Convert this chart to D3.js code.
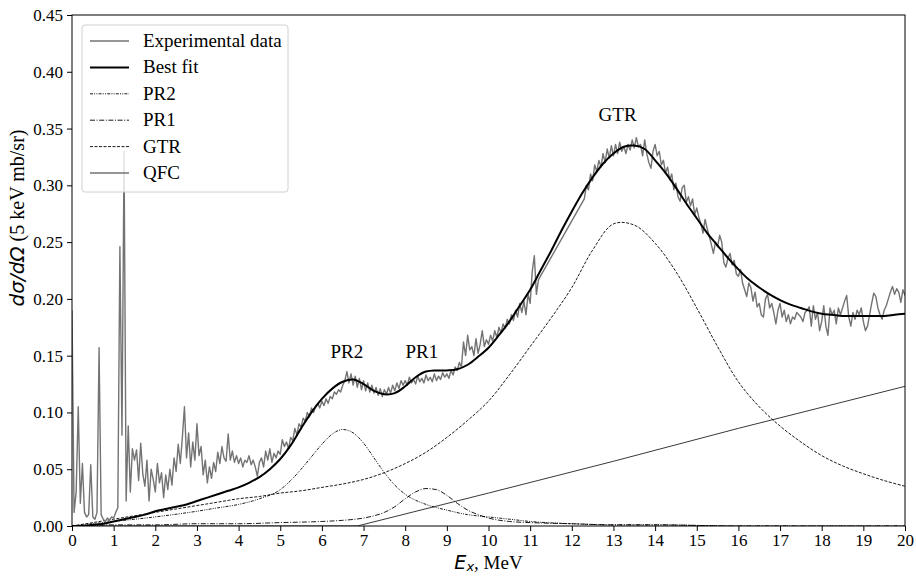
<!DOCTYPE html>
<html>
<head>
<meta charset="utf-8">
<script src="https://cdn.jsdelivr.net/npm/d3@7"></script>
<style>
  body { margin: 0; background: #fff; }
  svg { display: block; }
  .tick text { font-family: "Liberation Serif", "Times New Roman", serif; font-size: 17px; fill: #000; }
</style>
</head>
<body>
<svg id="chart" width="916" height="576"></svg>
<script>
// experimental spectrum, 0.05 MeV steps from 0 to 20 MeV (null = no data)
var expStep = 0.05;
var expY = [
  0.190, 0.012, 0.030, 0.105, 0.020, 0.055, 0.012, 0.008, 0.010, 0.054, 0.008, 0.006, 0.012, 0.157, 0.010, 0.006, 0.004, 0.007, 0.005, 0.008,
  0.007, 0.012, 0.016, 0.246, 0.080, 0.330, 0.022, 0.088, 0.030, 0.068, 0.058, 0.067, 0.040, 0.073, 0.046, 0.035, 0.058, 0.022, 0.050, 0.041,
  0.030, 0.055, 0.038, 0.047, 0.025, 0.045, 0.032, 0.050, 0.036, 0.060, 0.048, 0.072, 0.055, 0.078, 0.105, 0.060, 0.082, 0.052, 0.074, 0.058,
  0.090, 0.062, 0.070, 0.045, 0.058, 0.038, 0.052, 0.042, 0.056, 0.048, 0.065, 0.055, 0.070, 0.060, 0.057, 0.081, 0.058, 0.066, 0.056, 0.062,
  0.055, 0.060, 0.052, 0.058, 0.056, 0.062, 0.054, 0.058, 0.052, 0.044, 0.056, 0.060, 0.052, 0.066, 0.058, 0.068, 0.056, 0.064, 0.060, 0.066,
  0.063, 0.076, 0.070, 0.074, 0.068, 0.078, 0.075, 0.086, 0.080, 0.090, 0.087, 0.095, 0.092, 0.100, 0.096, 0.104, 0.100, 0.106, 0.108, 0.104,
  0.110, 0.106, 0.112, 0.108, 0.114, 0.112, 0.118, 0.116, 0.120, 0.118, 0.124, 0.128, 0.136, 0.126, 0.134, 0.124, 0.132, 0.122, 0.130, 0.120,
  0.128, 0.119, 0.126, 0.118, 0.124, 0.117, 0.122, 0.115, 0.121, 0.114, 0.120, 0.116, 0.122, 0.117, 0.124, 0.119, 0.126, 0.121, 0.128, 0.124,
  0.128, 0.124, 0.131, 0.126, 0.129, 0.125, 0.132, 0.127, 0.130, 0.126, 0.133, 0.128, 0.131, 0.127, 0.134, 0.128, 0.132, 0.129, 0.135, 0.131,
  0.134, 0.130, 0.137, 0.133, 0.140, 0.137, 0.144, 0.140, 0.162, 0.150, 0.168, 0.155, 0.158, 0.150, 0.165, 0.152, 0.160, 0.172, 0.158, 0.164,
  0.160, 0.168, 0.163, 0.172, 0.166, 0.175, 0.170, 0.178, 0.174, 0.182, 0.178, 0.186, 0.181, 0.190, 0.184, 0.196, 0.188, 0.198, 0.186, 0.204,
  0.196, 0.224, 0.238, 0.204, 0.217, null, null, null, null, null, null, null, null, null, null, null, null, null, null, null,
  null, null, null, null, null, null, 0.288, 0.300, 0.296, 0.310, 0.304, 0.318, 0.312, 0.322, 0.316, 0.328, 0.320, 0.332, 0.324, 0.335,
  0.326, 0.336, 0.328, 0.338, 0.330, 0.334, 0.328, 0.336, 0.331, 0.340, 0.333, 0.342, 0.334, 0.336, 0.326, 0.340, 0.328, 0.320, 0.315, 0.330,
  0.336, 0.326, 0.330, 0.318, 0.322, 0.311, 0.316, 0.305, 0.310, 0.296, 0.302, 0.290, 0.286, 0.298, 0.300, 0.285, 0.290, 0.282, 0.288, 0.274,
  0.280, 0.272, 0.266, 0.258, 0.270, 0.262, 0.255, 0.248, 0.240, 0.250, 0.246, 0.256, 0.250, 0.232, 0.228, 0.236, 0.240, 0.230, 0.234, 0.222,
  0.220, 0.226, 0.214, 0.208, 0.202, 0.214, 0.210, 0.198, 0.206, 0.193, 0.196, 0.186, 0.184, 0.200, 0.204, 0.192, 0.196, 0.188, 0.178, 0.190,
  0.196, 0.184, 0.190, 0.180, 0.186, 0.178, 0.184, 0.182, 0.188, 0.186, 0.184, 0.180, 0.188, 0.190, 0.193, 0.176, 0.194, 0.182, 0.188, 0.172,
  0.180, 0.194, 0.176, 0.168, 0.192, 0.186, 0.190, 0.178, 0.192, 0.186, 0.192, 0.198, 0.203, 0.184, 0.176, 0.188, 0.182, 0.190, 0.186, 0.192,
  0.180, 0.172, 0.176, 0.186, 0.196, 0.205, 0.202, 0.192, 0.186, 0.182, 0.190, 0.194, 0.200, 0.206, 0.211, 0.204, 0.209, 0.206, 0.197, 0.208,
  0.203
];

// best fit, 0.25 MeV steps
var fitStep = 0.25;
var fitY = [
  0.000, 0.000, 0.001, 0.002, 0.004, 0.006, 0.008, 0.010, 0.013, 0.015, 0.017, 0.019, 0.022, 0.025, 0.028, 0.031,
  0.034, 0.038, 0.043, 0.050, 0.059, 0.071, 0.086, 0.100, 0.112, 0.121, 0.127, 0.129, 0.125, 0.119, 0.116, 0.117,
  0.123, 0.131, 0.136, 0.137, 0.137, 0.138, 0.142, 0.149, 0.157, 0.168, 0.180, 0.194, 0.208, 0.225, 0.242, 0.260,
  0.277, 0.293, 0.307, 0.319, 0.328, 0.334, 0.335, 0.332, 0.322, 0.311, 0.298, 0.284, 0.271, 0.258, 0.247, 0.236,
  0.226, 0.217, 0.210, 0.204, 0.199, 0.195, 0.192, 0.189, 0.187, 0.186, 0.185, 0.185, 0.185, 0.185, 0.185, 0.186,
  0.187
];

// GTR component, 0.5 MeV steps
var gtrStep = 0.5;
var gtrY = [
  0.000, 0.003, 0.006, 0.009, 0.012, 0.015, 0.018, 0.021, 0.024, 0.026, 0.029, 0.031, 0.034, 0.037, 0.041, 0.047,
  0.055, 0.065, 0.078, 0.093, 0.110, 0.133, 0.158, 0.183, 0.210, 0.243, 0.266, 0.265, 0.249, 0.224, 0.192, 0.158,
  0.127, 0.105, 0.088, 0.074, 0.062, 0.053, 0.046, 0.040, 0.035
];

// PR2 component
var pr2E = [0, 1, 2, 3, 3.5, 4, 4.5, 5, 5.25, 5.5, 5.75, 6, 6.25, 6.5, 6.75, 7, 7.25, 7.5, 7.75, 8, 8.5, 9, 9.5, 10, 10.5, 11, 12, 13, 14, 16, 18, 20];
var pr2Y = [0.000, 0.004, 0.008, 0.013, 0.016, 0.019, 0.024, 0.032, 0.040, 0.050, 0.061, 0.072, 0.081, 0.085, 0.082, 0.073,
            0.060, 0.047, 0.036, 0.028, 0.019, 0.014, 0.010, 0.008, 0.006, 0.004, 0.002, 0.001, 0.001, 0.000, 0.000, 0.000];

// PR1 component
var pr1E = [0, 1, 2, 3, 4, 5, 6, 6.5, 7, 7.25, 7.5, 7.75, 8, 8.25, 8.5, 8.75, 9, 9.25, 9.5, 9.75, 10, 10.5, 11, 12, 13, 14, 16, 18, 20];
var pr1Y = [0.000, 0.001, 0.001, 0.002, 0.002, 0.003, 0.004, 0.005, 0.007, 0.009, 0.012, 0.017, 0.024, 0.030, 0.033, 0.032,
            0.027, 0.020, 0.014, 0.010, 0.007, 0.004, 0.003, 0.002, 0.001, 0.001, 0.000, 0.000, 0.000];

// QFC component
var qfcE = [0, 6.85, 10, 13, 16, 20];
var qfcY = [0.000, 0.000, 0.029, 0.057, 0.086, 0.123];

var xTicks = d3.range(0, 21, 1);
var yTicks = [0, 0.05, 0.10, 0.15, 0.20, 0.25, 0.30, 0.35, 0.40, 0.45];

var peakLabels = ["PR2", "PR1", "GTR"];
var peakLabelE = [6.6, 8.4, 13.1];
var peakLabelY = [0.148, 0.148, 0.357];

var legendNames = ["Experimental data", "Best fit", "PR2", "PR1", "GTR", "QFC"];

var margin = {left: 72, right: 11, top: 15, bottom: 50};
var width = 916, height = 576;

var svg = d3.select("#chart");

var x = d3.scaleLinear().domain([0, 20]).range([margin.left, width - margin.right]);
var y = d3.scaleLinear().domain([0, 0.45]).range([height - margin.bottom, margin.top]);

function pairs(es, ys) {
  return ys.map(function(v, i) { return [es[i], v]; }).filter(function(d) { return d[1] !== null; });
}
function stepped(step, ys) {
  return pairs(ys.map(function(v, i) { return i * step; }), ys);
}

var smooth = d3.curveCatmullRom.alpha(0.5);
var styles = [
  {data: stepped(expStep, expY), color: "#737373", w: 1.4, dash: null, curve: d3.curveLinear},
  {data: stepped(fitStep, fitY), color: "#000", w: 2, dash: null, curve: smooth},
  {data: pairs(pr2E, pr2Y), color: "#000", w: 0.9, dash: "3,1.2,1,1.2,1,1.2", curve: d3.curveMonotoneX},
  {data: pairs(pr1E, pr1Y), color: "#000", w: 0.9, dash: "5,1.6,1,1.6", curve: d3.curveMonotoneX},
  {data: stepped(gtrStep, gtrY), color: "#000", w: 0.9, dash: "3,1.5", curve: smooth},
  {data: pairs(qfcE, qfcY), color: "#222", w: 0.9, dash: null, curve: d3.curveLinear}
];

svg.append("defs").append("clipPath").attr("id", "plotclip")
  .append("rect")
  .attr("x", x(0)).attr("y", y(0.45))
  .attr("width", x(20) - x(0)).attr("height", y(0) - y(0.45));

var plot = svg.append("g").attr("clip-path", "url(#plotclip)");

// draw components first, experimental data and fit on top
[5, 4, 3, 2, 0, 1].forEach(function(k) {
  var s = styles[k];
  var line = d3.line()
    .x(function(d) { return x(d[0]); })
    .y(function(d) { return y(d[1]); })
    .curve(s.curve);
  plot.append("path")
    .datum(s.data)
    .attr("fill", "none")
    .attr("stroke", s.color)
    .attr("stroke-width", s.w)
    .attr("stroke-dasharray", s.dash)
    .attr("stroke-linejoin", "round")
    .attr("d", line);
});

// axes
var xAxis = svg.append("g")
  .attr("transform", "translate(0," + y(0) + ")")
  .call(d3.axisBottom(x).tickValues(xTicks).tickSize(5).tickPadding(3).tickFormat(d3.format("d")));
var yAxis = svg.append("g")
  .attr("transform", "translate(" + x(0) + ",0)")
  .call(d3.axisLeft(y).tickValues(yTicks).tickSize(5).tickPadding(4).tickFormat(d3.format(".2f")));
[xAxis, yAxis].forEach(function(a) {
  a.select(".domain").remove();
  a.selectAll(".tick line").attr("stroke", "#000").attr("stroke-width", 1);
});

svg.append("rect")
  .attr("x", x(0)).attr("y", y(0.45))
  .attr("width", x(20) - x(0)).attr("height", y(0) - y(0.45))
  .attr("fill", "none").attr("stroke", "#000").attr("stroke-width", 1);

// axis labels
var xl = svg.append("text")
  .attr("x", (x(0) + x(20)) / 2).attr("y", 569)
  .attr("text-anchor", "middle")
  .style("font-size", "19px");
xl.append("tspan").attr("font-family", "DejaVu Sans").attr("font-style", "italic").text("E");
xl.append("tspan").attr("font-family", "DejaVu Sans").attr("font-style", "italic")
  .attr("font-size", "13px").attr("dy", 2).text("x");
xl.append("tspan").attr("font-family", "Liberation Serif").attr("dy", -2).text(", MeV");

var yl = svg.append("text")
  .attr("transform", "translate(24,218) rotate(-90)")
  .attr("text-anchor", "middle")
  .style("font-size", "20px");
yl.append("tspan").attr("font-family", "DejaVu Sans").attr("font-style", "italic").text("dσ/dΩ");
yl.append("tspan").attr("font-family", "Liberation Serif").text(" (5 keV mb/sr)");

// peak annotations
svg.selectAll(".peak")
  .data(peakLabels)
  .enter().append("text")
  .attr("class", "peak")
  .attr("x", function(d, i) { return x(peakLabelE[i]); })
  .attr("y", function(d, i) { return y(peakLabelY[i]); })
  .attr("text-anchor", "middle")
  .attr("font-family", "Liberation Serif")
  .attr("font-size", "19px")
  .text(function(d) { return d; });

// legend
var lg = svg.append("g").attr("transform", "translate(82,25)");
lg.append("rect")
  .attr("width", 206).attr("height", 167).attr("rx", 3)
  .attr("fill", "#fff").attr("fill-opacity", 0.8)
  .attr("stroke", "#d0d0d0").attr("stroke-width", 1);
legendNames.forEach(function(name, i) {
  var s = styles[i];
  var cy = 16 + i * 26.4;
  lg.append("line")
    .attr("x1", 8).attr("x2", 47).attr("y1", cy).attr("y2", cy)
    .attr("stroke", i === 5 ? "#737373" : s.color)
    .attr("stroke-width", i === 5 ? 1.4 : s.w)
    .attr("stroke-dasharray", s.dash);
  lg.append("text")
    .attr("x", 61).attr("y", cy + 6)
    .attr("font-family", "Liberation Serif")
    .attr("font-size", "19px")
    .text(name);
});
</script>
</body>
</html>
